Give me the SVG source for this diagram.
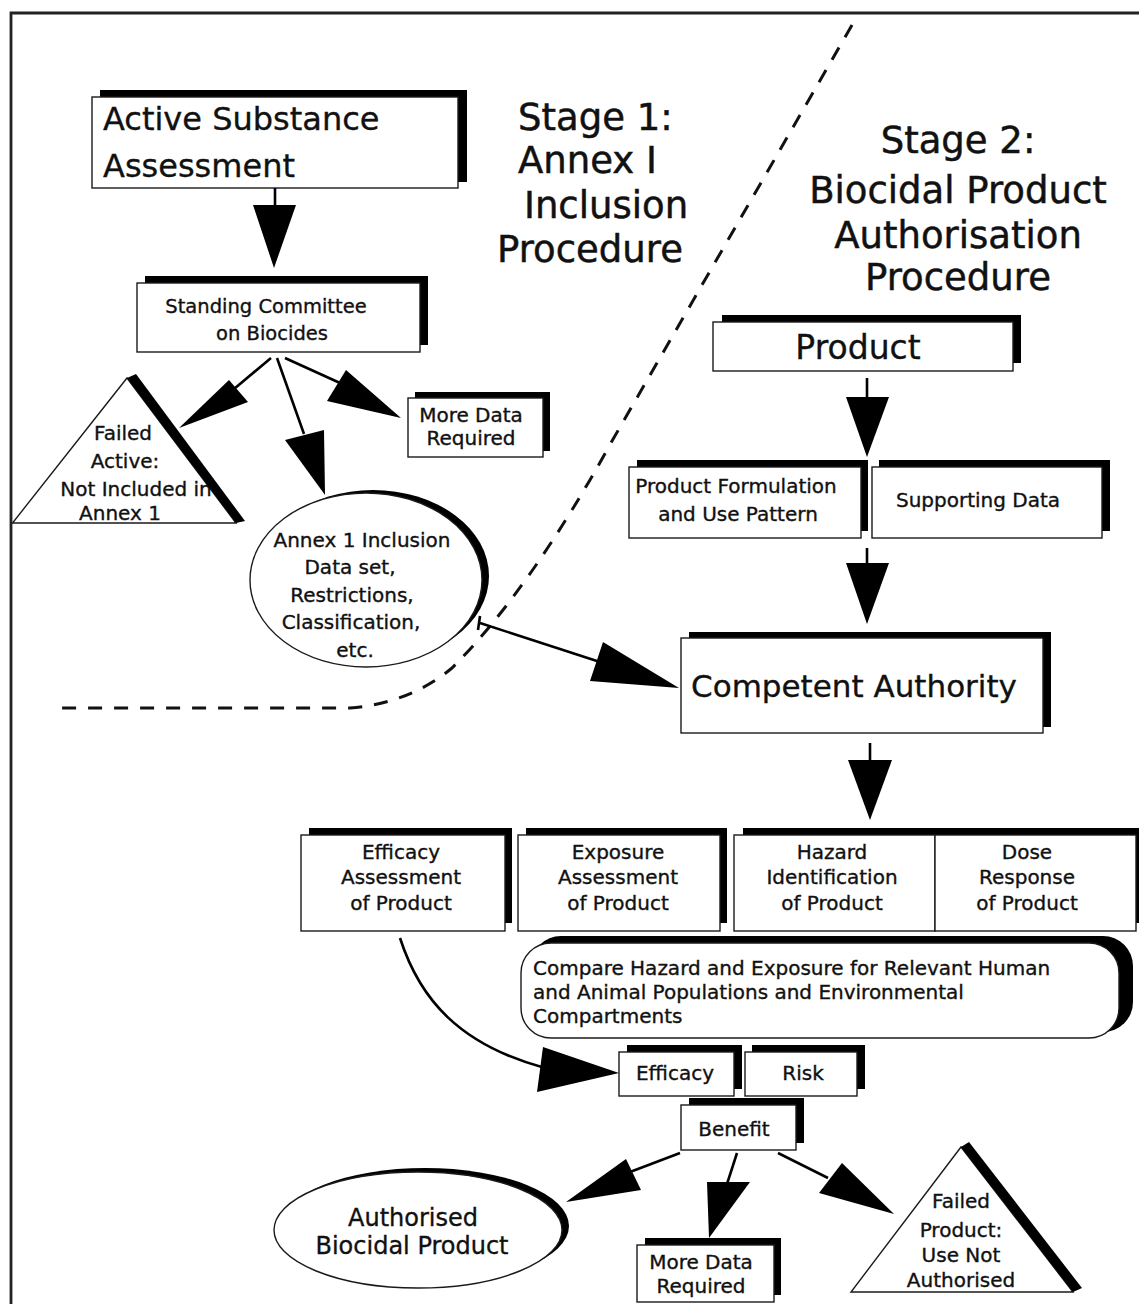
<svg xmlns="http://www.w3.org/2000/svg" width="1139" height="1304" viewBox="0 0 1139 1304">
  <style>
    .sh { fill: #000; }
    .bx { fill: #fff; stroke: #1a1a1a; stroke-width: 1.4; }
    .t { font-family: "DejaVu Sans", "Liberation Sans", sans-serif; fill: #111; font-size: 20px; stroke: #111; stroke-width: 0.35; }
    .m { text-anchor: middle; }
    .big { font-size: 37px; stroke-width: 0.5; }
    .ln { fill: none; stroke: #000; stroke-width: 2.6; }
    .hd { fill: #000; }
    .dash { fill: none; stroke: #111; stroke-width: 3; stroke-dasharray: 14 12; }
  </style>

  <rect x="0" y="0" width="1139" height="1304" fill="#fff"/>
  <!-- outer frame -->
  <path d="M 11 1304 V 13 H 1139" fill="none" stroke="#222" stroke-width="2.8"/>

  <!-- stage boundary -->
  <path class="dash" d="M 852 25 L 612 441 Q 530 590 452 668 Q 410 703 350 708 L 57 708"/>

  <!-- stage titles -->
  <g id="stage1-title" class="t big">
    <text x="518" y="130">Stage 1:</text>
    <text x="518" y="173">Annex I</text>
    <text x="524" y="218">Inclusion</text>
    <text x="497" y="262">Procedure</text>
  </g>
  <g id="stage2-title" class="t big m">
    <text x="958" y="153">Stage 2:</text>
    <text x="958" y="203">Biocidal Product</text>
    <text x="958" y="248">Authorisation</text>
    <text x="958" y="290">Procedure</text>
  </g>

  <!-- Stage 1 nodes -->
  <g id="active-substance">
    <rect class="sh" x="100" y="90" width="367" height="92"/>
    <rect class="bx" x="92" y="97" width="366" height="91"/>
    <text class="t" x="103" y="130" style="font-size:32px">Active Substance</text>
    <text class="t" x="103" y="177" style="font-size:32px">Assessment</text>
  </g>

  <g id="standing-committee">
    <rect class="sh" x="145" y="276" width="283" height="69"/>
    <rect class="bx" x="137" y="283" width="283" height="69"/>
    <text class="t m" x="266" y="313" style="font-size:19.5px">Standing Committee</text>
    <text class="t m" x="272" y="340" style="font-size:19.5px">on Biocides</text>
  </g>

  <g id="failed-active">
    <polygon class="bx" points="127,378 236,523 12.5,523"/>
    <text class="t m" x="123" y="440">Failed</text>
    <text class="t m" x="125" y="468">Active:</text>
    <text class="t m" x="136" y="496">Not Included in</text>
    <text class="t m" x="120" y="520">Annex 1</text>
    <polygon class="sh" points="127,378 136,374 245,521 236,523"/>
  </g>

  <g id="more-data-1">
    <rect class="sh" x="415" y="392" width="135" height="59"/>
    <rect class="bx" x="408" y="398" width="135" height="59"/>
    <text class="t m" x="471" y="422">More Data</text>
    <text class="t m" x="471" y="445">Required</text>
  </g>

  <g id="annex-inclusion">
    <ellipse class="sh" cx="373" cy="576" rx="116" ry="86"/>
    <ellipse class="bx" cx="366" cy="580" rx="116" ry="87"/>
    <text class="t m" x="362" y="547">Annex 1 Inclusion</text>
    <text class="t m" x="350" y="574">Data set,</text>
    <text class="t m" x="352" y="602">Restrictions,</text>
    <text class="t m" x="351" y="629">Classification,</text>
    <text class="t m" x="355" y="657">etc.</text>
  </g>

  <!-- Stage 2 nodes -->
  <g id="product">
    <rect class="sh" x="722" y="315" width="299" height="48"/>
    <rect class="bx" x="713" y="322" width="300" height="49"/>
    <text class="t m" x="858" y="359" style="font-size:33px">Product</text>
  </g>

  <g id="product-formulation">
    <rect class="sh" x="637" y="460" width="231" height="71"/>
    <rect class="bx" x="629" y="467" width="232" height="71"/>
    <text class="t m" x="736" y="493">Product Formulation</text>
    <text class="t m" x="738" y="521">and Use Pattern</text>
  </g>

  <g id="supporting-data">
    <rect class="sh" x="879" y="460" width="231" height="71"/>
    <rect class="bx" x="872" y="467" width="230" height="71"/>
    <text class="t m" x="978" y="507">Supporting Data</text>
  </g>

  <g id="competent-authority">
    <rect class="sh" x="689" y="632" width="362" height="95"/>
    <rect class="bx" x="681" y="638" width="362" height="95"/>
    <text class="t m" x="854" y="697" style="font-size:31px">Competent Authority</text>
  </g>

  <g id="efficacy-assessment">
    <rect class="sh" x="309" y="828" width="203" height="95"/>
    <rect class="bx" x="301" y="835" width="204" height="96"/>
    <text class="t m" x="401" y="859">Efficacy</text>
    <text class="t m" x="401" y="884">Assessment</text>
    <text class="t m" x="401" y="910">of Product</text>
  </g>

  <g id="exposure-assessment">
    <rect class="sh" x="526" y="828" width="201" height="95"/>
    <rect class="bx" x="518" y="835" width="202" height="96"/>
    <text class="t m" x="618" y="859">Exposure</text>
    <text class="t m" x="618" y="884">Assessment</text>
    <text class="t m" x="618" y="910">of Product</text>
  </g>

  <g id="hazard-dose">
    <rect class="sh" x="743" y="828" width="400" height="95"/>
    <g id="hazard-identification">
      <rect class="bx" x="734" y="835" width="201" height="96"/>
      <text class="t m" x="832" y="859">Hazard</text>
      <text class="t m" x="832" y="884">Identification</text>
      <text class="t m" x="832" y="910">of Product</text>
    </g>
    <g id="dose-response">
      <rect class="bx" x="935" y="835" width="201" height="96"/>
      <text class="t m" x="1027" y="859">Dose</text>
      <text class="t m" x="1027" y="884">Response</text>
      <text class="t m" x="1027" y="910">of Product</text>
    </g>
  </g>

  <g id="compare">
    <rect class="sh" x="531" y="936" width="602" height="96" rx="30"/>
    <rect class="bx" x="521" y="943" width="598" height="95" rx="30"/>
    <text class="t" x="533" y="975">Compare Hazard and Exposure for Relevant Human</text>
    <text class="t" x="533" y="999">and Animal Populations and Environmental</text>
    <text class="t" x="533" y="1023">Compartments</text>
  </g>

  <g id="efficacy">
    <rect class="sh" x="627" y="1045" width="115" height="44"/>
    <rect class="bx" x="619" y="1052" width="115" height="44"/>
    <text class="t m" x="675" y="1080">Efficacy</text>
  </g>

  <g id="risk">
    <rect class="sh" x="752" y="1045" width="113" height="44"/>
    <rect class="bx" x="745" y="1052" width="112" height="44"/>
    <text class="t m" x="803" y="1080">Risk</text>
  </g>

  <g id="benefit">
    <rect class="sh" x="689" y="1098" width="115" height="45"/>
    <rect class="bx" x="681" y="1105" width="115" height="45"/>
    <text class="t m" x="734" y="1136">Benefit</text>
  </g>

  <g id="authorised-product">
    <ellipse class="sh" cx="425" cy="1226" rx="144" ry="58"/>
    <ellipse class="bx" cx="418" cy="1230" rx="144" ry="58"/>
    <text class="t m" x="413" y="1226" style="font-size:24px">Authorised</text>
    <text class="t m" x="412" y="1254" style="font-size:24px">Biocidal Product</text>
  </g>

  <g id="more-data-2">
    <rect class="sh" x="645" y="1238" width="136" height="57"/>
    <rect class="bx" x="637" y="1245" width="137" height="57"/>
    <text class="t m" x="701" y="1269">More Data</text>
    <text class="t m" x="701" y="1293">Required</text>
  </g>

  <g id="failed-product">
    <polygon class="bx" points="961,1147 1073,1292 851,1292"/>
    <text class="t m" x="961" y="1208">Failed</text>
    <text class="t m" x="961" y="1237">Product:</text>
    <text class="t m" x="961" y="1262">Use Not</text>
    <text class="t m" x="961" y="1287">Authorised</text>
    <polygon class="sh" points="961,1147 969,1142 1082,1288 1073,1292"/>
  </g>

  <!-- connectors -->
  <g id="connectors">
    <line class="ln" x1="275" y1="188" x2="275" y2="207"/>
    <polygon class="hd" points="253,205 296,205 274,268"/>

    <line class="ln" x1="271" y1="358" x2="234" y2="389"/>
    <polygon class="hd" points="229,380 248,402 179,428"/>

    <line class="ln" x1="277" y1="358" x2="304" y2="434"/>
    <polygon class="hd" points="285,440 324,430 325,495"/>

    <line class="ln" x1="285" y1="358" x2="340" y2="383"/>
    <polygon class="hd" points="327,401 346,370 401,418"/>

    <line class="ln" x1="480" y1="623" x2="600" y2="662"/>
    <line class="ln" x1="480" y1="616" x2="478" y2="630"/>
    <polygon class="hd" points="603,642 590,681 679,688"/>

    <line class="ln" x1="867" y1="378" x2="867" y2="399"/>
    <polygon class="hd" points="846,397 889,397 867,457"/>

    <line class="ln" x1="867" y1="548" x2="867" y2="565"/>
    <polygon class="hd" points="846,563 889,563 867,624"/>

    <line class="ln" x1="870" y1="743" x2="870" y2="762"/>
    <polygon class="hd" points="848,760 892,760 870,820"/>

    <path class="ln" d="M 400 938 C 420 1000, 460 1045, 545 1068"/>
    <polygon class="hd" points="543,1047 537,1092 619,1073"/>

    <line class="ln" x1="680" y1="1153" x2="630" y2="1172"/>
    <polygon class="hd" points="626,1159 641,1190 566,1202"/>

    <line class="ln" x1="737" y1="1153" x2="727" y2="1184"/>
    <polygon class="hd" points="707,1182 750,1182 709,1238"/>

    <line class="ln" x1="778" y1="1153" x2="828" y2="1178"/>
    <polygon class="hd" points="819,1193 842,1163 894,1214"/>
  </g>
</svg>
